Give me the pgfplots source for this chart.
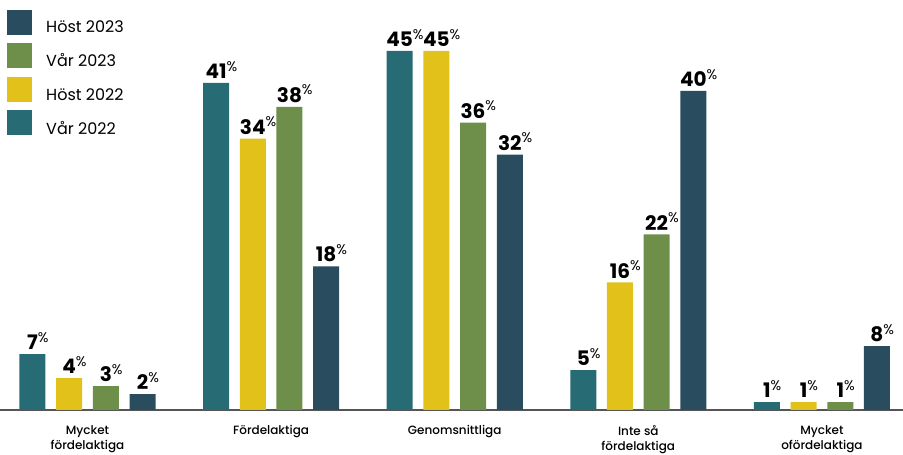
\documentclass[border=0pt]{standalone}
\usepackage{fontspec}
\setmainfont{Poppins}
\newfontfamily\catfont{Poppins Medium}
\usepackage{pgfplots}
\usepackage{pgfplotstable}
\pgfplotsset{compat=1.18}
\definecolor{cteal}{HTML}{276B74}
\definecolor{cyel}{HTML}{E2C11B}
\definecolor{cgreen}{HTML}{6D8F4A}
\definecolor{cnavy}{HTML}{294D5E}
\definecolor{cline}{HTML}{555555}
\pgfplotsset{sq/.style={legend image code/.code={\fill[##1] (0pt,-7pt) rectangle (25pt,18pt);}}}
\pgfplotstableread{
x v22 h22 v23 h23
0 7 4 3 2
1 41 34 38 18
2 45 45 36 32
3 5 16 22 40
4 1 1 1 8
}\data
\begin{document}
\begin{tikzpicture}
\begin{axis}[
  at={(0,0)}, anchor=south west,
  scale only axis, width=903pt, height=455pt,
  xmin=-0.4766, xmax=4.4417, ymin=-5.64, ymax=51.38,
  ybar=10.7pt, bar width=26pt,
  axis x line*=middle, axis y line=none,
  x axis line style={draw=cline, line width=1.3pt},
  xtick={0,...,4},
  xticklabels={{Mycket\\fördelaktiga},Fördelaktiga,Genomsnittliga,{Inte så\\fördelaktiga},{Mycket\\ofördelaktiga}},
  xticklabel style={align=center, font=\catfont\fontsize{12}{15}\selectfont, anchor=north, yshift=-12pt},
  major tick length=0pt,
  ytick=\empty,
  /pgf/number format/assume math mode=true,
  nodes near coords={\textbf{\pgfmathprintnumber\pgfplotspointmeta}\rlap{\textsuperscript{\%}}},
  every node near coord/.append style={font=\fontsize{20}{20}\selectfont, anchor=south, text=black, inner sep=4pt},
  reverse legend,
  legend style={at={(0,1)}, anchor=north west, xshift=7pt, yshift=-9.5pt, draw=none, fill=none,
    inner sep=0pt, row sep=8.5pt, column sep=14pt, font=\fontsize{16}{19}\selectfont,
    nodes={inner sep=0pt}, cells={anchor=west}},
  clip=false,
]
\addplot[fill=cteal, draw=none, sq] table[x=x, y=v22] {\data};
\addlegendentry{Vår 2022}
\addplot[fill=cyel, draw=none, sq] table[x=x, y=h22] {\data};
\addlegendentry{Höst 2022}
\addplot[fill=cgreen, draw=none, sq] table[x=x, y=v23] {\data};
\addlegendentry{Vår 2023}
\addplot[fill=cnavy, draw=none, sq] table[x=x, y=h23] {\data};
\addlegendentry{Höst 2023}
\end{axis}
\pgfresetboundingbox
\path (0,0) rectangle (903pt,455pt);
\end{tikzpicture}
\end{document}
